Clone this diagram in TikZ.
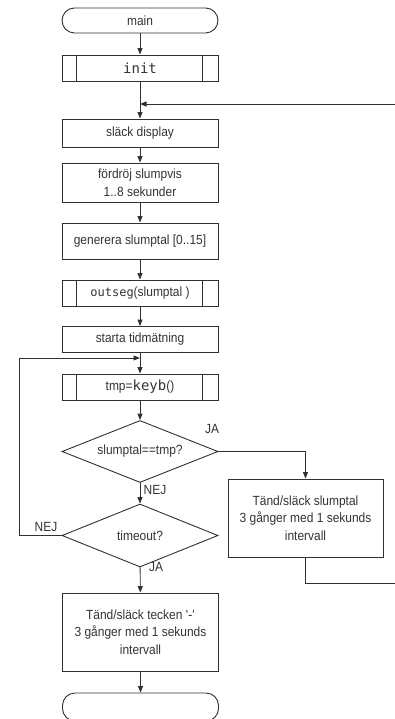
\documentclass[tikz,border=0pt]{standalone}
\usepackage{fontspec}
\setmainfont{Liberation Sans}[FakeStretch=0.9]
\setmonofont{DejaVu Sans Mono}
\usetikzlibrary{shapes.geometric,arrows.meta,calc}
\definecolor{lc}{HTML}{303030}
\definecolor{tc}{HTML}{333333}
\newcommand\flfont{\fontsize{13.3pt}{17.5pt}\selectfont}
\newcommand\bigmono[1]{{\fontsize{14pt}{14pt}\selectfont\ttfamily #1}}
\newcommand\smallmono[1]{{\fontsize{12pt}{12pt}\selectfont\ttfamily #1}}
\begin{document}
\begin{tikzpicture}[x=1pt,y=-1pt,
  box/.style={draw=lc, line width=0.9pt, minimum width=156pt, inner sep=0pt,
    align=center, text=tc, font=\flfont},
  proc/.style={box, path picture={
    \draw[lc,line width=0.9pt]
      ([xshift=14pt]path picture bounding box.north west) -- ([xshift=14pt]path picture bounding box.south west)
      ([xshift=-16pt]path picture bounding box.north east) -- ([xshift=-16pt]path picture bounding box.south east);}},
  term/.style={box, rounded corners=12.5pt},
  dec/.style={draw=lc, line width=0.9pt, shape=diamond, aspect=2.5, minimum width=156pt,
    minimum height=62pt, inner sep=0pt, text=tc, font=\flfont},
  arr/.style={draw=lc, line width=0.9pt, -{Triangle[length=6.5pt,width=5pt]}},
  ln/.style={draw=lc, line width=0.9pt},
  lbl/.style={text=tc, font=\flfont, inner sep=0pt}]
\useasboundingbox (0,0) rectangle (395,719);
\clip (0,0) rectangle (395,719);

\node[term, minimum height=25pt] (main) at (140,20.5) {main};
\node[proc, minimum height=26pt] (init) at (140,68) {\bigmono{init}};
\node[box, minimum height=28pt] (slack) at (140,133) {släck display};
\node[box, minimum height=39pt] (ford) at (140,182.5) {fördröj slumpvis\\1..8 sekunder};
\node[box, minimum height=36pt] (gen) at (140,241) {generera slumptal [0..15]};
\node[proc, minimum height=26pt] (outs) at (140,293) {\smallmono{outseg}(slumptal )};
\node[box, minimum height=26pt] (start) at (140,339.5) {starta tidmätning};
\node[proc, minimum height=26pt] (tmp) at (140,387) {tmp=\bigmono{keyb}()};
\node[dec] (d1) at (140,451.5) {slumptal==tmp?};
\node[dec, minimum height=63pt] (d2) at (140,535.5) {timeout?};
\node[box, minimum width=155pt, minimum height=78pt] (right) at (305.5,518) {Tänd/släck slumptal\\3 gånger med 1 sekunds\\intervall};
\node[box, minimum height=78pt] (bot) at (140.5,632) {Tänd/släck tecken \textquotesingle-\textquotesingle\\3 gånger med 1 sekunds\\intervall};
\node[term, minimum height=28pt] (end) at (140.5,707) {};

\coordinate (rin) at (395,104);
\coordinate (j1) at (140,104);
\coordinate (j2) at (140,358);
\coordinate (lft) at (19,535.5);
\coordinate (rout) at (395,583);

\draw[arr] (main) -- (init);
\draw[arr] (init) -- (slack);
\draw[arr] (rin) -- (j1);
\draw[arr] (slack) -- (ford);
\draw[arr] (ford) -- (gen);
\draw[arr] (gen) -- (outs);
\draw[arr] (outs) -- (start);
\draw[arr] (start) -- (tmp);
\draw[arr] (lft) |- (j2);
\draw[ln] (d2.west) -- (lft);
\draw[arr] (tmp) -- (d1);
\draw[arr] (d1) -- (d2);
\draw[arr] (d1.east) -| (right.north);
\draw[ln] (right.south) |- (rout);
\draw[arr] (d2) -- (bot);
\draw[arr] (bot) -- (end);

\node[lbl] (ja1) at (212,429) {JA};
\node[lbl] (nej1) at (155,490) {NEJ};
\node[lbl] (nej2) at (46,527) {NEJ};
\node[lbl] (ja2) at (156,567) {JA};
\end{tikzpicture}
\end{document}
